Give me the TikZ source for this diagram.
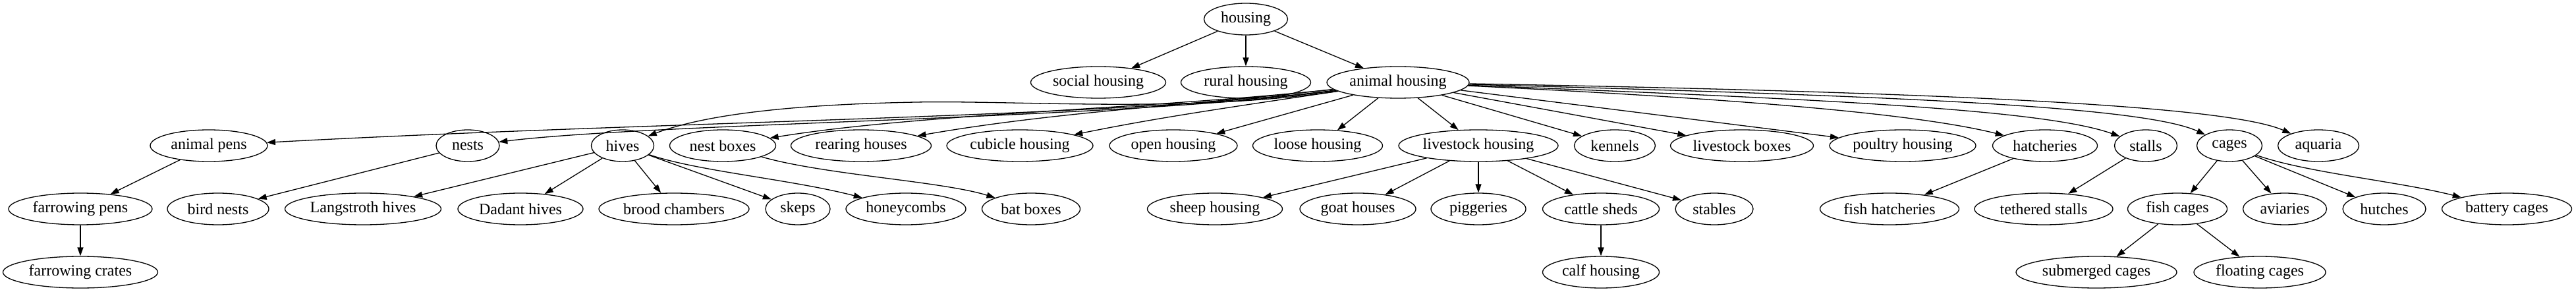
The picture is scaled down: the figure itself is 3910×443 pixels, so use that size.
\documentclass[tikz,border=0pt]{standalone}
\usepackage{fontspec}
\setmainfont{Liberation Serif}
\usetikzlibrary{shapes.geometric,arrows.meta}
\begin{document}
\begin{tikzpicture}[x=1pt,y=-1pt,
  nd/.style={ellipse,draw,line width=1.3pt,inner sep=0pt,minimum height=48pt,font=\fontsize{24}{28}\selectfont},
  ar/.style={-{Triangle[length=13pt,width=9pt]},line width=1.3pt}]
\useasboundingbox (0,0) rectangle (3910,443);
% row 0
\node[nd,minimum width=127pt] (housing) at (1891,29) {housing};
% row 1
\node[nd,minimum width=205pt] (social) at (1667,125) {social housing};
\node[nd,minimum width=197pt] (rural) at (1891,125) {rural housing};
\node[nd,minimum width=216pt] (ah) at (2122,125) {animal housing};
% row 2
\node[nd,minimum width=178pt] (pens) at (317,221) {animal pens};
\node[nd,minimum width=96pt] (nests) at (710,221) {nests};
\node[nd,minimum width=95pt] (hives) at (945,221) {hives};
\node[nd,minimum width=161pt] (nboxes) at (1097,221) {nest boxes};
\node[nd,minimum width=213pt] (rearing) at (1307,221) {rearing houses};
\node[nd,minimum width=222pt] (cubicle) at (1548,221) {cubicle housing};
\node[nd,minimum width=194pt] (open) at (1781,221) {open housing};
\node[nd,minimum width=197pt] (loose) at (2000,221) {loose housing};
\node[nd,minimum width=242pt] (livestock) at (2244,221) {livestock housing};
\node[nd,minimum width=123pt] (kennels) at (2451,221) {kennels};
\node[nd,minimum width=217pt] (lboxes) at (2644,221) {livestock boxes};
\node[nd,minimum width=222pt] (poultry) at (2888,221) {poultry housing};
\node[nd,minimum width=159pt] (hatch) at (3104,221) {hatcheries};
\node[nd,minimum width=95pt] (stalls) at (3257,221) {stalls};
\node[nd,minimum width=99pt] (cages) at (3384,221) {cages};
\node[nd,minimum width=123pt] (aquaria) at (3519,221) {aquaria};
% row 3
\node[nd,minimum width=218pt] (fpens) at (122,317) {farrowing pens};
\node[nd,minimum width=154pt] (bird) at (331,317) {bird nests};
\node[nd,minimum width=237pt] (lang) at (551,317) {Langstroth hives};
\node[nd,minimum width=190pt] (dadant) at (790,317) {Dadant hives};
\node[nd,minimum width=228pt] (brood) at (1023,317) {brood chambers};
\node[nd,minimum width=98pt] (skeps) at (1211,317) {skeps};
\node[nd,minimum width=182pt] (honey) at (1375,317) {honeycombs};
\node[nd,minimum width=149pt] (bat) at (1565,317) {bat boxes};
\node[nd,minimum width=205pt] (sheep) at (1844,317) {sheep housing};
\node[nd,minimum width=176pt] (goat) at (2061,317) {goat houses};
\node[nd,minimum width=144pt] (pigs) at (2244,317) {piggeries};
\node[nd,minimum width=177pt] (cattle) at (2430,317) {cattle sheds};
\node[nd,minimum width=118pt] (stables) at (2602,317) {stables};
\node[nd,minimum width=211pt] (fishh) at (2868,317) {fish hatcheries};
\node[nd,minimum width=210pt] (tether) at (3102,317) {tethered stalls};
\node[nd,minimum width=151pt] (fishc) at (3305,317) {fish cages};
\node[nd,minimum width=127pt] (aviaries) at (3468,317) {aviaries};
\node[nd,minimum width=126pt] (hutches) at (3619,317) {hutches};
\node[nd,minimum width=197pt] (battery) at (3805,317) {battery cages};
% row 4
\node[nd,minimum width=235pt] (fcrates) at (122,413) {farrowing crates};
\node[nd,minimum width=177pt] (calf) at (2430,413) {calf housing};
\node[nd,minimum width=244pt] (subm) at (3182,413) {submerged cages};
\node[nd,minimum width=200pt] (float) at (3430,413) {floating cages};
% edges
\draw[ar] (housing) -- (social);
\draw[ar] (housing) -- (rural);
\draw[ar] (housing) -- (ah);
\draw[ar] (ah) .. controls (1700,178) and (1000,184) .. (pens);
\draw[ar] (ah) .. controls (1700,181) and (1000,186) .. (nests);
\draw[ar] (ah) .. controls (1800,172) and (1550,152) .. (1390,155) .. controls (1230,158) and (1080,170) .. (hives);
\draw[ar] (ah) .. controls (1750,165) and (1400,172) .. (nboxes);
\draw[ar] (ah) .. controls (1800,160) and (1600,170) .. (rearing);
\draw[ar] (ah) .. controls (1850,165) and (1750,180) .. (cubicle);
\draw[ar] (ah) -- (open);
\draw[ar] (ah) -- (loose);
\draw[ar] (ah) -- (livestock);
\draw[ar] (ah) -- (kennels);
\draw[ar] (ah) -- (lboxes);
\draw[ar] (ah) -- (poultry);
\draw[ar] (ah) .. controls (2600,148) and (2900,170) .. (hatch);
\draw[ar] (ah) .. controls (2750,150) and (3100,165) .. (stalls);
\draw[ar] (ah) .. controls (2850,145) and (3250,160) .. (cages);
\draw[ar] (ah) .. controls (2950,140) and (3380,160) .. (aquaria);
\draw[ar] (pens) -- (fpens);
\draw[ar] (fpens) -- (fcrates);
\draw[ar] (nests) -- (bird);
\draw[ar] (hives) -- (lang);
\draw[ar] (hives) -- (dadant);
\draw[ar] (hives) -- (brood);
\draw[ar] (hives) -- (skeps);
\draw[ar] (hives) .. controls (1060,260) and (1200,272) .. (honey);
\draw[ar] (nboxes) .. controls (1250,265) and (1430,275) .. (bat);
\draw[ar] (livestock) -- (sheep);
\draw[ar] (livestock) -- (goat);
\draw[ar] (livestock) -- (pigs);
\draw[ar] (livestock) -- (cattle);
\draw[ar] (livestock) -- (stables);
\draw[ar] (cattle) -- (calf);
\draw[ar] (hatch) -- (fishh);
\draw[ar] (stalls) -- (tether);
\draw[ar] (cages) -- (fishc);
\draw[ar] (cages) -- (aviaries);
\draw[ar] (cages) -- (hutches);
\draw[ar] (cages) .. controls (3500,262) and (3640,275) .. (battery);
\draw[ar] (fishc) -- (subm);
\draw[ar] (fishc) -- (float);
\end{tikzpicture}
\end{document}
